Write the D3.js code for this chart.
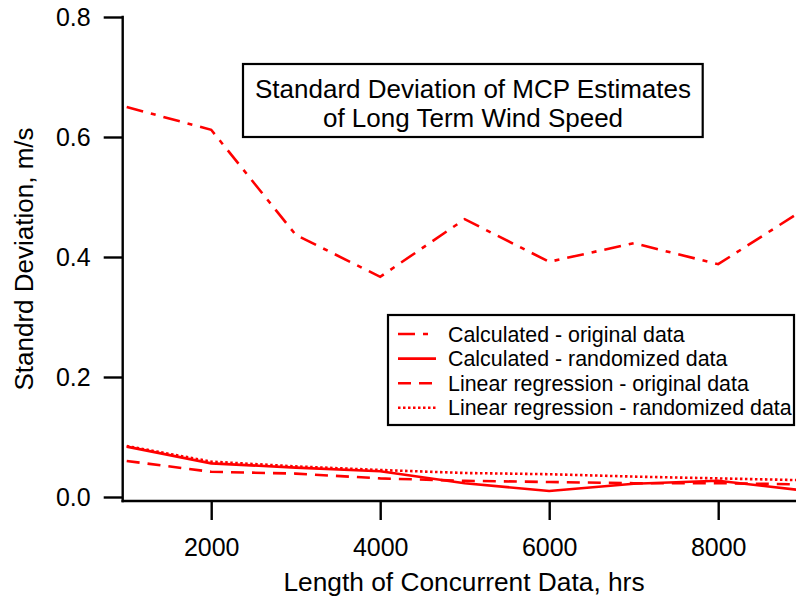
<html>
    <head>
        <script src="https://d3js.org/d3.v7.min.js"></script>
        <style>
            body { margin: 0; background: #fff; }
            text { font-family: "Liberation Sans", Arial, sans-serif; }
        </style>
    </head>
    <body>
        <script>
    // data
    var hours = [1000, 2000, 3000, 4000, 5000, 6000, 7000, 8000, 9000];
    var calcOriginal = [0.650, 0.612, 0.437, 0.367, 0.463, 0.392, 0.423, 0.388, 0.478];
    var calcRandom = [0.084, 0.056, 0.049, 0.043, 0.023, 0.010, 0.022, 0.027, 0.011];
    var linOriginal = [0.060, 0.042, 0.039, 0.031, 0.027, 0.025, 0.023, 0.023, 0.021];
    var linRandom = [0.085, 0.059, 0.051, 0.045, 0.040, 0.038, 0.034, 0.031, 0.028];
    var yTicks = [0, 0.2, 0.4, 0.6, 0.8];
    var xTicks = [2000, 4000, 6000, 8000];

    var seriesNames = ["Calculated - original data", "Calculated - randomized data",
        "Linear regression - original data", "Linear regression - randomized data"];
    var seriesValues = [calcOriginal, calcRandom, linOriginal, linRandom];
    var dashes = ["17,8,5,8", null, "13,8", "2.5,2.5"];

    var width = 796, height = 598;
    var axisX = 122.7, axisY = 501;

    var svg = d3.select("body").append("svg")
        .attr("width", width)
        .attr("height", height);

    var x = d3.scaleLinear()
        .domain([1000, 9000])
        .range([126.7, 126.7 + 8 * 84.5]);
    var y = d3.scaleLinear()
        .domain([0, 0.8])
        .range([497, 17]);

    // lines
    var line = d3.line()
        .x((d, i) => x(hours[i]))
        .y(d => y(d));

    svg.selectAll("path.series")
        .data(seriesValues).enter()
        .append("path")
        .attr("class", "series")
        .attr("fill", "none")
        .attr("stroke", "#ff0000")
        .attr("stroke-width", 2.6)
        .attr("stroke-dasharray", (d, i) => dashes[i])
        .attr("d", line);

    // axes
    var yAxis = svg.append("g")
        .attr("transform", `translate(${axisX},0)`)
        .call(d3.axisLeft(y).tickValues(yTicks).tickFormat(d3.format(".1f"))
            .tickSizeInner(19).tickSizeOuter(0).tickPadding(13))
        .call(g => g.select(".domain").remove());

    var xAxis = svg.append("g")
        .attr("transform", `translate(0,${axisY})`)
        .call(d3.axisBottom(x).tickValues(xTicks).tickFormat(d3.format("d"))
            .tickSizeInner(19).tickSizeOuter(0).tickPadding(18))
        .call(g => g.select(".domain").remove());

    svg.selectAll(".tick line").attr("stroke", "#000").attr("stroke-width", 2.4);
    svg.selectAll(".tick text").attr("fill", "#000").style("font-size", "25px");

    svg.append("line")
        .attr("x1", axisX).attr("x2", axisX)
        .attr("y1", y(0.8) - 1.2).attr("y2", axisY + 1.2)
        .attr("stroke", "#000").attr("stroke-width", 2.4);
    svg.append("line")
        .attr("x1", axisX - 1.2).attr("x2", width)
        .attr("y1", axisY).attr("y2", axisY)
        .attr("stroke", "#000").attr("stroke-width", 2.4);

    svg.append("text")
        .attr("x", 464).attr("y", 591)
        .attr("text-anchor", "middle")
        .style("font-size", "26.3px")
        .text("Length of Concurrent Data, hrs");

    svg.append("text")
        .attr("transform", "translate(33,259) rotate(-90)")
        .attr("text-anchor", "middle")
        .style("font-size", "26px")
        .text("Standrd Deviation, m/s");

    // title box
    svg.append("rect")
        .attr("x", 243).attr("y", 64)
        .attr("width", 459.7).attr("height", 73)
        .attr("fill", "#fff").attr("stroke", "#000").attr("stroke-width", 2.2);
    svg.append("text")
        .attr("x", 473).attr("y", 98)
        .attr("text-anchor", "middle")
        .style("font-size", "26px")
        .text("Standard Deviation of MCP Estimates");
    svg.append("text")
        .attr("x", 473).attr("y", 127)
        .attr("text-anchor", "middle")
        .style("font-size", "26px")
        .text("of Long Term Wind Speed");

    // legend
    var legend = svg.append("g");
    legend.append("rect")
        .attr("x", 388).attr("y", 315)
        .attr("width", 406).attr("height", 110)
        .attr("fill", "#fff").attr("stroke", "#000").attr("stroke-width", 2.2);

    var rows = legend.selectAll("g.row")
        .data(seriesNames).enter()
        .append("g")
        .attr("class", "row")
        .attr("transform", (d, i) => `translate(0,${334 + i * 24.6})`);
    rows.append("line")
        .attr("x1", 398).attr("x2", 436)
        .attr("stroke", "#ff0000")
        .attr("stroke-width", 2.6)
        .attr("stroke-dasharray", (d, i) => dashes[i]);
    rows.append("text")
        .attr("x", 448).attr("y", 7.5)
        .style("font-size", "21.4px")
        .text(d => d);
        </script>
    </body>
</html>
